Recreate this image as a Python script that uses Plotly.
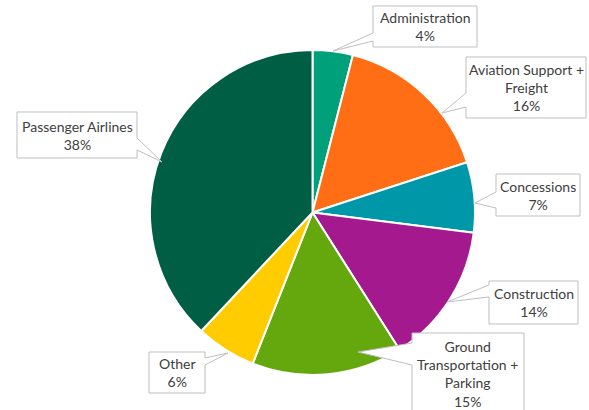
import plotly.graph_objects as go

# Revenue share by category, clockwise from 12 o'clock
categories = [
    "Administration",
    "Aviation Support + Freight",
    "Concessions",
    "Construction",
    "Ground Transportation + Parking",
    "Other",
    "Passenger Airlines",
]
values = [4, 16, 7, 14, 15, 6, 38]
# How each category name is wrapped inside its callout
label_lines = [
    ["Administration"],
    ["Aviation Support +", "Freight"],
    ["Concessions"],
    ["Construction"],
    ["Ground", "Transportation +", "Parking"],
    ["Other"],
    ["Passenger Airlines"],
]
colors = ["#00A07A", "#FF6D14", "#0098A8", "#A4198E", "#64A80D", "#FFCC00", "#005E45"]

W, H = 589, 410

# Callout geometry in pixels: box (x0, y0, x1, y1), wedge side, wedge base span, tip
callouts = [
    dict(box=(373, 6, 477, 47), side="left", base=(33, 41), tip=(333, 51)),
    dict(box=(466, 57, 586, 118), side="left", base=(93, 107), tip=(442, 113)),
    dict(box=(496, 174, 580, 216), side="left", base=(192, 208), tip=(475, 203)),
    dict(box=(489, 281, 578, 324), side="left", base=(285, 297), tip=(447, 302)),
    dict(box=(412, 333, 524, 414), side="left", base=(343, 365), tip=(358, 352)),
    dict(box=(149, 352, 205, 393), side="right", base=(358, 365), tip=(228, 353)),
    dict(box=(17, 112, 137, 158), side="right", base=(138, 150), tip=(162, 162)),
]


def px(x):
    return x / W


def py(y):
    return 1 - y / H


def callout_path(c):
    x0, y0, x1, y1 = c["box"]
    b0, b1 = c["base"]
    tx, ty = c["tip"]
    if c["side"] == "left":
        pts = [(x0, y0), (x1, y0), (x1, y1), (x0, y1), (x0, b1), (tx, ty), (x0, b0)]
    else:
        pts = [(x0, y0), (x1, y0), (x1, b0), (tx, ty), (x1, b1), (x1, y1), (x0, y1)]
    return "M " + " L ".join(f"{px(a):.5f},{py(b):.5f}" for a, b in pts) + " Z"


# Pie placement: center (312.5, 212.5), radius 162.5 px
cx, cy, r = 312.5, 212.5, 162.5

fig = go.Figure(
    go.Pie(
        labels=categories,
        values=values,
        sort=False,
        direction="clockwise",
        rotation=0,
        marker=dict(colors=colors, line=dict(color="white", width=2)),
        textinfo="none",
        hovertemplate="%{label}: %{percent}<extra></extra>",
        showlegend=False,
        domain=dict(x=[px(cx - r), px(cx + r)], y=[py(cy + r), py(cy - r)]),
    )
)

total = sum(values)
shapes = []
annotations = []
for lines, v, c in zip(label_lines, values, callouts):
    shapes.append(
        dict(
            type="path",
            xref="paper",
            yref="paper",
            path=callout_path(c),
            fillcolor="white",
            line=dict(color="#BFBFBF", width=1),
            layer="above",
        )
    )
    x0, y0, x1, y1 = c["box"]
    pct = round(v / total * 100)
    text = "<br>".join(lines + [f"{pct}%"])
    annotations.append(
        dict(
            xref="paper",
            yref="paper",
            x=px((x0 + x1) / 2),
            y=py((y0 + y1) / 2),
            xanchor="center",
            yanchor="middle",
            text=text,
            showarrow=False,
            align="center",
            font=dict(family="Lato", size=14, color="#404040"),
        )
    )

fig.update_layout(
    width=W,
    height=H,
    margin=dict(l=0, r=0, t=0, b=0),
    paper_bgcolor="white",
    plot_bgcolor="white",
    shapes=shapes,
    annotations=annotations,
)

fig.write_html("out.html")
